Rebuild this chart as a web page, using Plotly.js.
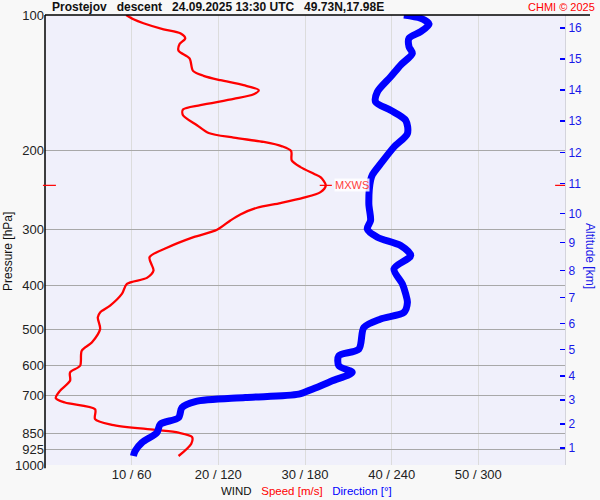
<!DOCTYPE html>
<html><head><meta charset="utf-8">
<script src="https://cdn.plot.ly/plotly-3.0.1.min.js"></script>
<style>html,body{margin:0;padding:0;background:#f8f8f8}</style>
</head><body><div id="chart" style="width:600px;height:500px"></div>
<script>
// Wind speed profile [m/s] vs pressure [hPa]
const speedPressure = [100,102.2,104.3,107.6,109.8,112.7,116.0,120.1,124.9,133.1,136.5,139.6,143.2,146.9,150.0,153.6,158.6,162.2,167.0,175.8,182.9,187.3,191.5,195.8,200.6,210.4,217.8,225.3,229.2,239.1,247.5,254.7,261.8,268.1,277.5,286.2,300.1,311.7,329.1,345.4,369.8,383.9,395.9,416.7,442.5,458.0,469.8,498.7,534.2,557.3,601.8,622.8,650.0,684.2,710.2,726.4,751.5,791.0,814.3,835.6,847.4,866.2,896.6,955.0];
const speed = [9.36,10.21,11.36,13.68,15.61,16.18,15.53,15.41,16.68,17.08,18.30,20.23,22.92,24.66,24.08,21.77,17.92,15.92,15.92,17.54,18.88,21.77,25.24,27.36,28.40,28.47,29.48,31.02,31.79,32.40,31.79,29.86,27.17,24.47,22.54,21.39,19.85,17.14,14.07,12.06,12.52,11.76,9.45,8.87,7.51,6.36,6.09,6.36,5.40,4.24,4.05,2.89,2.89,1.73,1.24,2.31,5.78,5.78,7.71,12.72,15.41,16.96,16.88,15.41];
// Wind direction profile [deg] vs pressure [hPa]
const dirPressure = [100,101.7,104.7,108.9,112.7,117.6,121.7,129.2,137.2,148.2,156.0,162.8,171.4,183.4,196.5,214.0,226.1,233.0,262.7,286.2,298.6,311.7,325.2,342.4,366.6,395.9,416.7,435.1,458.0,473.7,494.6,552.5,571.8,601.8,622.8,650.0,678.3,695.9,708.1,722.8,745.4,784.7,811.5,847.4,891.9,930.7,955.0];
const direction = [248.5,260.1,265.9,260.1,252.0,252.0,254.3,246.2,239.3,230.1,228.9,239.3,249.7,250.9,241.6,232.4,226.8,225.4,224.2,225.4,223.1,230.1,246.2,253.2,241.6,247.4,249.7,250.9,248.5,232.4,220.8,217.3,203.4,203.4,212.7,198.9,185.0,175.7,138.7,104.0,94.8,92.5,79.8,77.5,67.1,62.4,61.2];
// Axes ticks
const pressureTicks = [100,200,300,400,500,600,700,850,925,1000];
const speedTicks = [10,20,30,40,50];
const speedTickText = ['10 / 60','20 / 120','30 / 180','40 / 240','50 / 300'];
const altitudeKm = ['1','2','3','4','5','6','7','8','9','10','11','12','13','14','15','16'];
const altitudePressure = [916.7,810.2,716.5,633.6,554.4,485.3,424.6,369.8,320.3,276.1,236.6,201.9,172.2,146.9,125.3,106.9];

// max wind
let mi = 0; speed.forEach((v,i)=>{ if(v>speed[mi]) mi=i; });
const mxSpeed = speed[mi], mxP = speedPressure[mi];
const pY = p => 3 - Math.log10(p);

const FONT = 'Liberation Sans, Arial, sans-serif';
const traces = [
  {x: direction, y: dirPressure, xaxis:'x2', yaxis:'y', mode:'lines', line:{color:'#0000ff', width:7, shape:'spline', smoothing:0.8}, hoverinfo:'skip'},
  {x: speed, y: speedPressure, xaxis:'x', yaxis:'y', mode:'lines', line:{color:'#ff0000', width:2.3, shape:'spline', smoothing:0.8}, hoverinfo:'skip'},
  {x: [mxSpeed-0.7, mxSpeed+0.7], y:[mxP, mxP], xaxis:'x', yaxis:'y', mode:'lines', line:{color:'#ff0000', width:1.2}, hoverinfo:'skip'},
  {x: [0], y: altitudePressure.slice(0,1), xaxis:'x', yaxis:'y2', mode:'markers', marker:{opacity:0}, hoverinfo:'skip'}
];
const layout = {
  width:600, height:500,
  margin:{l:45, r:35, t:15, b:35},
  paper_bgcolor:'#f8f8f8', plot_bgcolor:'#f0f0fb',
  showlegend:false,
  font:{family:FONT, size:13, color:'#222'},
  xaxis:{range:[0,60], tickvals:speedTicks, ticktext:speedTickText, showgrid:true, gridcolor:'#dcdcdc', gridwidth:1, zeroline:false, showline:false, ticks:'', tickfont:{size:13, color:'#222'}, fixedrange:true},
  xaxis2:{range:[0,360], overlaying:'x', visible:false, fixedrange:true},
  yaxis:{type:'log', range:[3,2], tickvals:pressureTicks, ticktext:pressureTicks.map(String), showgrid:true, gridcolor:'#a8a8a8', gridwidth:1, zeroline:false, showline:false, ticks:'', tickfont:{size:13, color:'#222'}, fixedrange:true},
  yaxis2:{type:'log', range:[3,2], overlaying:'y', side:'right', tickvals:altitudePressure, ticktext:altitudeKm, showgrid:false, zeroline:false, showline:true, linecolor:'#d4d4dc', linewidth:1, ticks:'inside', ticklen:5, tickwidth:1.5, tickcolor:'#0000ff', tickfont:{size:12, color:'#1818e8'}, fixedrange:true},
  shapes:[
    {type:'line', xref:'paper', yref:'paper', x0:0, x1:(590-45)/520, y0:1, y1:1, line:{color:'#000', width:1.5}},
    {type:'line', xref:'paper', yref:'paper', x0:0, x1:0, y0:-0.007, y1:1, line:{color:'#000', width:1.5}},
    {type:'line', xref:'paper', yref:'paper', x0:-0.004, x1:0.021, y0:pY(mxP), y1:pY(mxP), line:{color:'#ff0000', width:1.2}},
    {type:'line', xref:'paper', yref:'paper', x0:0.981, x1:1, y0:pY(mxP), y1:pY(mxP), line:{color:'#ff0000', width:1.2}}
  ],
  annotations:[
    {xref:'paper', yref:'paper', x:5/520, y:(465-7)/450, xanchor:'left', yanchor:'middle', showarrow:false,
     text:'<b>Prostejov\u00a0\u00a0 descent\u00a0\u00a0 24.09.2025 13:30 UTC\u00a0\u00a0 49.73N,17.98E</b>', font:{size:12, color:'#111'}},
    {xref:'paper', yref:'paper', x:(597-45)/520, y:(465-7)/450, xanchor:'right', yanchor:'middle', showarrow:false,
     text:'CHMI © 2025', font:{size:11, color:'#ff0000'}},
    {xref:'paper', yref:'paper', x:(306-45)/520, y:(465-491)/450, xanchor:'center', yanchor:'middle', showarrow:false,
     text:'WIND\u00a0\u00a0 <span style="color:#ff0000">Speed [m/s]</span>\u00a0\u00a0 <span style="color:#0000ff">Direction [°]</span>', font:{size:11.5, color:'#111'}},
    {xref:'paper', yref:'paper', x:(8-45)/520, y:(465-252)/450, xanchor:'center', yanchor:'middle', textangle:-90, showarrow:false,
     text:'Pressure [hPa]', font:{size:12, color:'#111'}},
    {xref:'paper', yref:'paper', x:(590-45)/520, y:(465-256)/450, xanchor:'center', yanchor:'middle', textangle:90, showarrow:false,
     text:'Altitude [km]', font:{size:12, color:'#1818e8'}},
    {xref:'x', yref:'paper', x:mxSpeed+1.0, y:pY(mxP), xanchor:'left', yanchor:'middle', showarrow:false,
     text:'MXWS', font:{size:11, color:'#ff4040'}, bgcolor:'rgba(255,255,255,0.85)', borderpad:0}
  ]
};
Plotly.newPlot('chart', traces, layout, {staticPlot:true, displayModeBar:false});
</script></body></html>
